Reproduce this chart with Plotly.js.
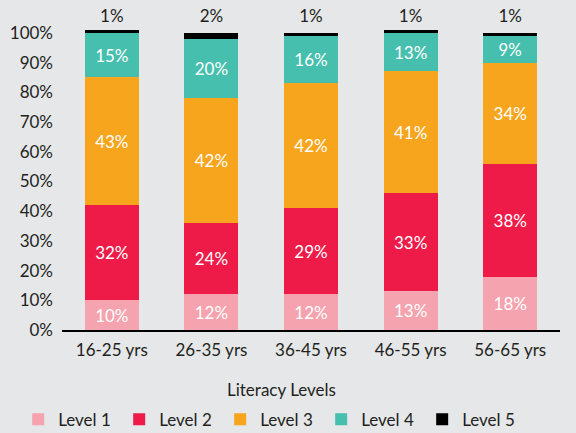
<!DOCTYPE html>
<html>
<head>
<meta charset="utf-8">
<script src="https://cdn.plot.ly/plotly-3.0.1.min.js"></script>
<style>
  html, body { margin: 0; padding: 0; background: #e6e7e9; }
  #chart { width: 576px; height: 433px; }
</style>
</head>
<body>
<div id="chart"></div>
<script>
// Share of adults at each literacy level, by age group (%)
const ageGroups = ['16-25 yrs', '26-35 yrs', '36-45 yrs', '46-55 yrs', '56-65 yrs'];
const level1 = [10, 12, 12, 13, 18];
const level2 = [32, 24, 29, 33, 38];
const level3 = [43, 42, 42, 41, 34];
const level4 = [15, 20, 16, 13, 9];
const level5 = [1, 2, 1, 1, 1];
const levelNames = ['Level 1', 'Level 2', 'Level 3', 'Level 4', 'Level 5'];
const yTicks = [0, 10, 20, 30, 40, 50, 60, 70, 80, 90, 100];

const colors = ['#f5a3ae', '#ee1a48', '#f8a51e', '#46bfae', '#000000'];
const FONT = 'Lato, "Open Sans", sans-serif';
const INK = '#231f20';

const series = [level1, level2, level3, level4, level5];

const traces = series.map((vals, i) => ({
  type: 'bar',
  name: levelNames[i],
  x: ageGroups,
  y: vals,
  marker: { color: colors[i], line: { width: 0 } },
  text: i < 4 ? vals.map(v => v + '%') : undefined,
  textposition: i < 4 ? 'inside' : 'none',
  insidetextanchor: 'middle',
  textfont: { family: FONT, size: 17, color: '#ffffff' },
  hoverinfo: 'x+y+name'
}));

// Level 5 shares are too thin to hold a label, so they sit in a row above the bars
traces.push({
  type: 'scatter',
  mode: 'text',
  x: ageGroups,
  y: ageGroups.map(() => 105),
  text: level5.map(v => v + '%'),
  textfont: { family: FONT, size: 17, color: INK },
  showlegend: false,
  hoverinfo: 'skip',
  cliponaxis: false
});

const layout = {
  width: 576,
  height: 433,
  paper_bgcolor: '#e6e7e9',
  plot_bgcolor: '#e6e7e9',
  barmode: 'stack',
  bargap: 0.458,
  margin: { l: 62, r: 16, t: 18, b: 103, autoexpand: false },
  font: { family: FONT, size: 17, color: INK },
  xaxis: {
    showline: true,
    linecolor: '#000000',
    linewidth: 1.5,
    ticks: '',
    ticklabelstandoff: 4,
    tickfont: { family: FONT, size: 17, color: INK },
    showgrid: false,
    zeroline: false,
    fixedrange: true
  },
  yaxis: {
    range: [0, 105],
    tickvals: yTicks,
    ticktext: yTicks.map(v => v + '%'),
    showgrid: false,
    zeroline: false,
    showline: false,
    ticks: '',
    ticklabelstandoff: 8,
    tickfont: { family: FONT, size: 17, color: INK },
    fixedrange: true
  },
  annotations: [{
    text: 'Literacy Levels',
    xref: 'paper',
    yref: 'paper',
    x: 0.44,
    y: -0.192,
    xanchor: 'center',
    yanchor: 'middle',
    showarrow: false,
    font: { family: FONT, size: 17, color: INK }
  }],
  showlegend: true,
  legend: {
    orientation: 'h',
    x: -0.088,
    xanchor: 'left',
    y: -0.23,
    yanchor: 'top',
    entrywidth: 56,
    traceorder: 'normal',
    bgcolor: 'rgba(0,0,0,0)',
    font: { family: FONT, size: 17, color: INK }
  }
};

Plotly.newPlot('chart', traces, layout, { displayModeBar: false, staticPlot: true });
</script>
</body>
</html>
